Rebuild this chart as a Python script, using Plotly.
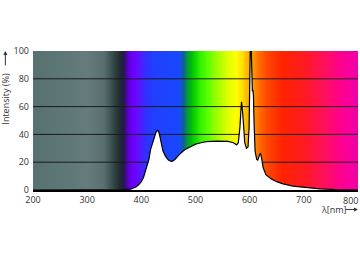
import numpy as np
import plotly.graph_objects as go

# Spectrum data (wavelength nm, relative intensity %)
wavelength = [200, 360, 370, 380, 385, 390, 395, 400, 404, 410, 414, 417, 420, 424, 427, 430, 432, 434, 437, 440, 445, 450, 456, 462,
              470, 480, 490, 500, 510, 520, 540, 560, 570, 576, 579, 582, 584, 585, 587, 589, 591, 594, 597, 599,
              600, 601, 603, 604, 605, 606, 607, 608, 610, 613, 615, 618, 620, 622, 625, 630, 640,
              650, 660, 680, 700, 730, 760, 800]
intensity = [0, 0, 0.2, 0.6, 1.2, 2.2, 3.8, 6, 9, 16, 22, 29, 33, 38, 41.5, 43, 42, 39, 33, 28, 24, 21.5, 20.5, 22,
             25.5, 29, 31, 33, 34, 34.8, 35.2, 35, 34, 32.5, 34, 45, 58, 63.5, 56, 42, 34, 30, 31, 45,
             80, 100, 100, 78, 71, 72, 68, 50, 28, 22, 21.5, 25, 26.5, 23, 16, 11, 8,
             6, 4.6, 2.8, 1.8, 0.8, 0.3, 0]

x_ticks = [200, 300, 400, 500, 600, 700]
x_last_tick = 800
y_ticks = [0, 20, 40, 60, 80, 100]
grid_levels = [20, 40, 60, 80]

# Background colour stops (wavelength -> colour)
bg_stops = [(200, "#577171"), (260, "#5e7877"), (300, "#657c7b"), (330, "#5a7070"), (345, "#3c5050"),
            (360, "#1f2d2e"), (368, "#2a1650"), (376, "#5a00d8"), (386, "#7000ff"), (396, "#5a14ff"),
            (408, "#3030ff"), (425, "#2040ff"), (470, "#1848ff"), (478, "#106090"), (486, "#00a030"),
            (495, "#00c800"), (508, "#30f000"), (522, "#58ff00"), (540, "#a0ff00"), (560, "#e0ff00"),
            (575, "#ffff00"), (586, "#ffe000"), (596, "#ffb400"), (607, "#ff9400"), (620, "#ff6400"),
            (635, "#ff4400"), (660, "#ff2400"), (700, "#ff1a20"), (740, "#ff1060"), (770, "#ff0090"),
            (800, "#ee00aa")]

lo, hi = 200, 800
colorscale = [[(w - lo) / (hi - lo), c] for w, c in bg_stops]
edges = np.arange(lo, hi + 1, 1)
centers = (edges[:-1] + edges[1:]) / 2

fig = go.Figure()
fig.add_trace(go.Heatmap(x=edges, y=[0, 100], z=[centers], colorscale=colorscale,
                         zmin=lo, zmax=hi, showscale=False, hoverinfo="skip"))
for g in grid_levels:
    fig.add_trace(go.Scatter(x=[lo, hi], y=[g, g], mode="lines",
                             line=dict(color="#1a1a1a", width=1), hoverinfo="skip", showlegend=False))
fig.add_trace(go.Scatter(x=wavelength, y=intensity, mode="lines", fill="tozeroy",
                         fillcolor="white", line=dict(color="black", width=1.2), showlegend=False))

font = dict(family="Open Sans, Noto Sans, sans-serif", size=9, color="#333333")
fig.update_layout(
    width=360, height=262,
    margin=dict(l=33, r=2, t=51, b=72),
    paper_bgcolor="white", plot_bgcolor="white",
    font=font, showlegend=False,
    xaxis=dict(range=[lo, hi], tickvals=x_ticks, ticktext=[str(v) for v in x_ticks],
               showgrid=False, zeroline=False, showline=True, linecolor="black", linewidth=1.5,
               ticks="", ticklen=0, tickfont=font, fixedrange=True),
    yaxis=dict(range=[0, 100], tickvals=y_ticks, showgrid=False, zeroline=False, showline=False,
               ticks="", tickfont=font, ticklabelstandoff=3, fixedrange=True),
)
fig.add_annotation(xref="x", yref="paper", x=x_last_tick, y=-0.072, text=str(x_last_tick),
                   showarrow=False, font=font, xanchor="right", yanchor="middle", xshift=2)
fig.add_annotation(xref="paper", yref="paper", x=-0.085, y=0.66, text="Intensity (%)",
                   textangle=-90, showarrow=False, font=font, xanchor="center", yanchor="middle")
fig.add_annotation(xref="paper", yref="paper", x=-0.085, y=1.0, text="", showarrow=True,
                   axref="pixel", ayref="pixel", ax=0, ay=16, arrowhead=2, arrowsize=0.8,
                   arrowwidth=1, arrowcolor="#333333")
fig.add_annotation(xref="paper", yref="paper", x=0.925, y=-0.14, text="λ[nm]",
                   showarrow=False, font=font, xanchor="center", yanchor="middle")
fig.add_annotation(xref="paper", yref="paper", x=1.0, y=-0.14, text="", showarrow=True,
                   axref="pixel", ayref="pixel", ax=-14, ay=0, arrowhead=2, arrowsize=0.8,
                   arrowwidth=1, arrowcolor="#333333")

fig.write_html("out.html")
